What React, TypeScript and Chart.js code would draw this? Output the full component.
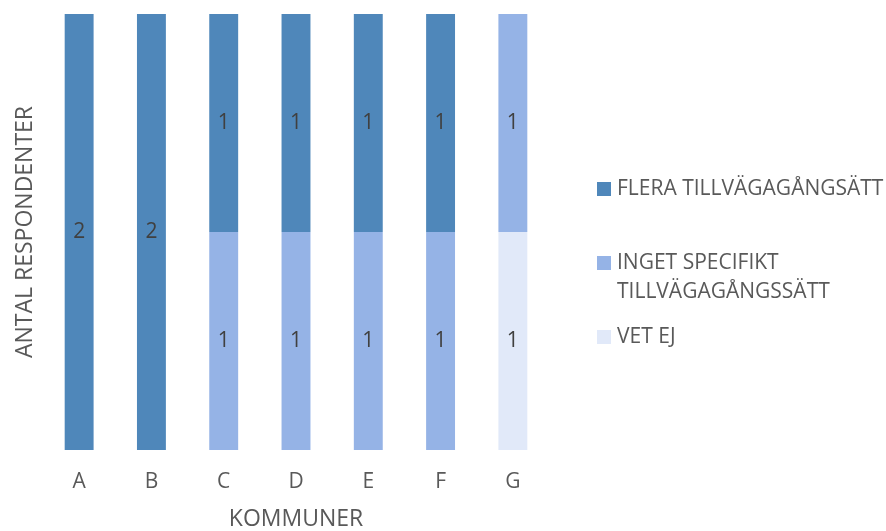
import React, { useEffect, useRef } from "react";
import { Chart, registerables } from "chart.js";

Chart.register(...registerables);

const categories = ["A", "B", "C", "D", "E", "F", "G"];
const fleraValues = [2, 2, 1, 1, 1, 1, 0];
const ingetValues = [0, 0, 1, 1, 1, 1, 1];
const vetEjValues = [0, 0, 0, 0, 0, 0, 1];
const seriesNames = ["FLERA TILLVÄGAGÅNGSÄTT", "INGET SPECIFIKT TILLVÄGAGÅNGSSÄTT", "VET EJ"];
const legendLines = [["FLERA TILLVÄGAGÅNGSÄTT"], ["INGET SPECIFIKT", "TILLVÄGAGÅNGSSÄTT"], ["VET EJ"]];
const yTitle = "ANTAL RESPONDENTER";
const xTitle = "KOMMUNER";
const yMin = 0;
const yMax = 2;

const FONT = "'Open Sans', 'Noto Sans', sans-serif";
const TEXT = "#595959";
const COL_FLERA = "#4f87ba";
const COL_INGET = "#95b3e6";
const COL_VET = "#e1e9f9";

const dataLabelPlugin = {
  id: "dataLabelPlugin",
  afterDatasetsDraw(chart: any) {
    const ctx = chart.ctx;
    ctx.save();
    ctx.font = `21px ${FONT}`;
    ctx.fillStyle = "#404040";
    ctx.textAlign = "center";
    ctx.textBaseline = "middle";
    chart.data.datasets.forEach((ds: any, i: number) => {
      const meta = chart.getDatasetMeta(i);
      meta.data.forEach((bar: any, j: number) => {
        const v = ds.data[j];
        if (!v) return;
        const { x, y, base } = bar.getProps(["x", "y", "base"], true);
        ctx.fillText(String(v), x, (y + base) / 2);
      });
    });
    ctx.restore();
  },
};

const legendPlugin = {
  id: "customLegend",
  afterDraw(chart: any) {
    const ctx = chart.ctx;
    const colors = [COL_FLERA, COL_INGET, COL_VET];
    const boxX = 597;
    const box = 14;
    const textX = 617;
    const lineH = 29;
    const tops = [182, 256, 330];
    ctx.save();
    ctx.font = `21px ${FONT}`;
    ctx.textAlign = "left";
    ctx.textBaseline = "middle";
    legendLines.forEach((lines, i) => {
      ctx.fillStyle = colors[i];
      ctx.fillRect(boxX, tops[i], box, box);
      ctx.fillStyle = TEXT;
      lines.forEach((line, k) => {
        ctx.fillText(line, textX, tops[i] + box / 2 + k * lineH);
      });
    });
    ctx.restore();
  },
};

export default function App() {
  const ref = useRef<HTMLCanvasElement | null>(null);
  useEffect(() => {
    document.body.style.margin = "0";
    const canvas = ref.current;
    if (!canvas) return;
    const chart = new Chart(canvas, {
      type: "bar",
      data: {
        labels: categories,
        datasets: [
          { label: seriesNames[2], data: vetEjValues, backgroundColor: COL_VET },
          { label: seriesNames[1], data: ingetValues, backgroundColor: COL_INGET },
          { label: seriesNames[0], data: fleraValues, backgroundColor: COL_FLERA },
        ],
      },
      options: {
        responsive: false,
        animation: false,
        datasets: { bar: { categoryPercentage: 1, barPercentage: 0.4 } },
        layout: { padding: { top: 14, right: 337, left: 0, bottom: 0 } },
        plugins: { legend: { display: false }, tooltip: { enabled: false } },
        scales: {
          x: {
            stacked: true,
            afterFit: (s: any) => { s.height = 81; },
            grid: { display: false, drawTicks: false },
            border: { display: false },
            ticks: { color: TEXT, font: { family: FONT, size: 21 }, padding: 19 },
            title: {
              display: true,
              text: xTitle,
              color: TEXT,
              font: { family: FONT, size: 23, lineHeight: 1 },
              padding: { top: 0, bottom: 0 },
            },
          },
          y: {
            stacked: true,
            min: yMin,
            max: yMax,
            afterFit: (s: any) => { s.width = 43; },
            grid: { display: false, drawTicks: false },
            border: { display: false },
            ticks: { display: false },
            title: {
              display: true,
              text: yTitle,
              color: TEXT,
              font: { family: FONT, size: 23, lineHeight: 1 },
              padding: { top: 14, bottom: 0 },
            },
          },
        },
      },
      plugins: [dataLabelPlugin, legendPlugin],
    } as any);
    return () => chart.destroy();
  }, []);
  return <canvas ref={ref} width={886} height={531} style={{ display: "block" }} />;
}
